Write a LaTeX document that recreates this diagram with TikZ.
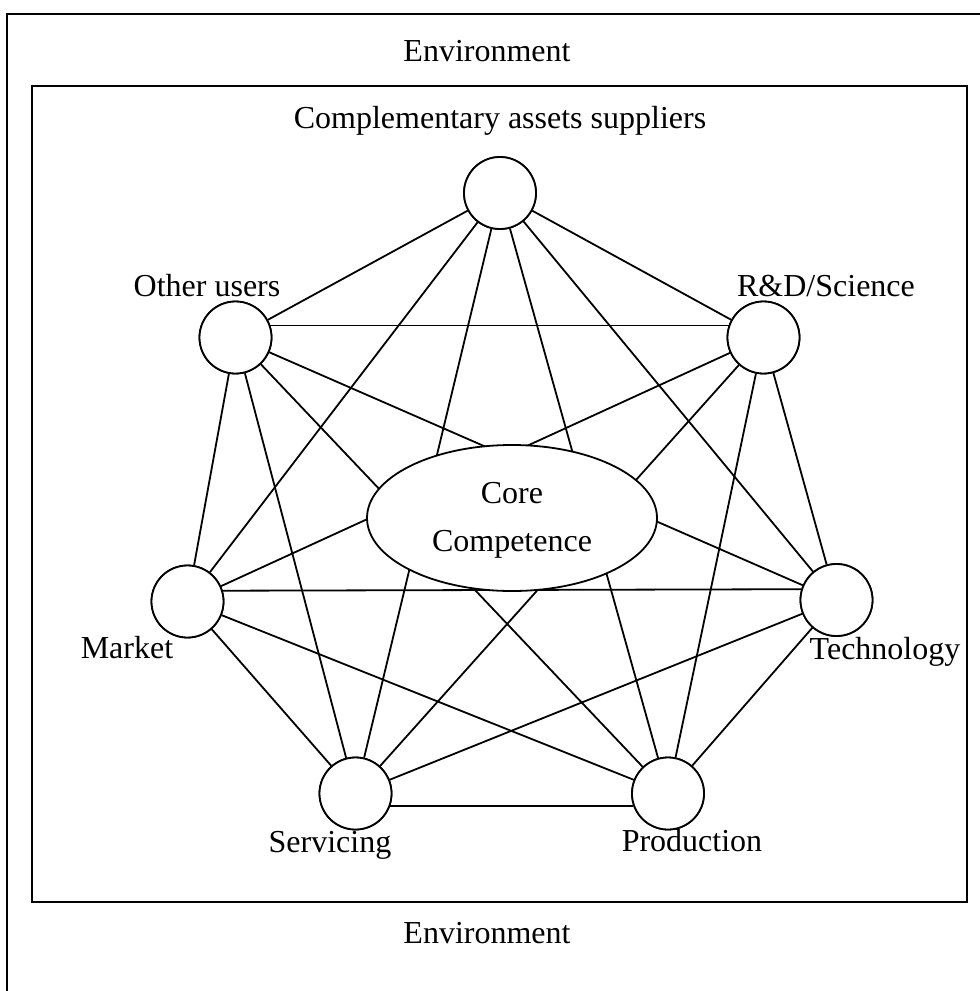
\documentclass[tikz,border=0pt]{standalone}
\usepackage{fontspec}
\setmainfont{Liberation Serif}
\usetikzlibrary{shapes.geometric}
\begin{document}
\begin{tikzpicture}[x=1pt,y=-1pt,
  frame/.style={line width=2.4pt},
  party/.style={circle,draw,fill=white,line width=1.8pt,minimum size=72pt,inner sep=0pt},
  link/.style={line width=1.8pt},
  core/.style={ellipse,draw,fill=white,line width=1.8pt,minimum width=290pt,minimum height=146pt,inner sep=0pt,align=center},
  lbl/.style={anchor=base,inner sep=0pt,font=\fontsize{32}{48}\selectfont}]
\useasboundingbox (0,0) rectangle (980,991);
\begin{scope}
\clip (0,0) rectangle (980,991);
% outer environment frame (runs past the page on the right and bottom)
\draw[frame] (7,14) rectangle (1010,1010);
\end{scope}
% inner frame
\draw[frame] (32,86) rectangle (967,902);

% actors around the core
\node[party] (cas) at (500,193) {};
\node[party] (ou)  at (235.5,337.5) {};
\node[party] (rd)  at (763.5,337.5) {};
\node[party] (mk)  at (187.5,601.5) {};
\node[party] (te)  at (836.5,600) {};
\node[party] (sv)  at (355.5,793.5) {};
\node[party] (pr)  at (668,793.5) {};

% every actor is linked with every other actor
\draw[link] (cas) -- (ou);
\draw[link] (cas) -- (rd);
\draw[link] (cas) -- (mk);
\draw[link] (cas) -- (te);
\draw[link] (cas) -- (sv);
\draw[link] (cas) -- (pr);
\draw[link] (ou.19) -- (rd.161);
\draw[link] (ou) -- (mk);
\draw[link] (ou) -- (te);
\draw[link] (ou) -- (sv);
\draw[link] (ou) -- (pr);
\draw[link] (rd) -- (mk);
\draw[link] (rd) -- (te);
\draw[link] (rd) -- (sv);
\draw[link] (rd) -- (pr);
\draw[link] (mk.17) -- (te.163);
\draw[link] (mk) -- (sv);
\draw[link] (mk) -- (pr);
\draw[link] (te) -- (sv);
\draw[link] (te) -- (pr);
\draw[link] (sv.-20) -- (pr.200);

% redraw the circles over the link ends
\foreach \n in {cas,ou,rd,mk,te,sv,pr}
  \node[party] at (\n) {};

% core competence in the middle
\node[core] (cc) at (512,518) {};
\node[lbl] (cc1) at (512,503) {Core};
\node[lbl] (cc2) at (512,551) {Competence};

% labels
\node[lbl] (env1) at (487,61)  {Environment};
\node[lbl] (env2) at (487,943) {Environment};
\node[lbl] (lcas) at (500,128) {Complementary assets suppliers};
\node[lbl] (lou)  at (207,296) {Other users};
\node[lbl] (lrd)  at (826,296) {R\&D/Science};
\node[lbl] (lmk)  at (127,658) {Market};
\node[lbl] (lte)  at (885,659) {Technology};
\node[lbl] (lsv)  at (330,852) {Servicing};
\node[lbl] (lpr)  at (692,851) {Production};
\end{tikzpicture}
\end{document}
